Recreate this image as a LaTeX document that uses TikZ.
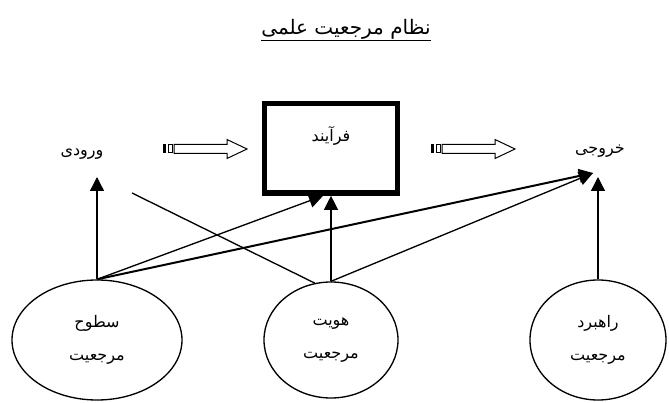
\documentclass[tikz,border=0pt]{standalone}
\usepackage{fontspec}
\newfontfamily\fa[Script=Arabic]{DejaVu Sans}
\TeXXeTstate=1
\usetikzlibrary{positioning,shapes.geometric,arrows.meta}

\begin{document}
\begin{tikzpicture}[x=0.75pt,y=-0.75pt,
	every node/.style={font=\fa\fontsize{12}{14}\selectfont},
	circ/.style={draw,ellipse,line width=1pt,align=center,font=\fa\fontsize{12}{24.5}\selectfont},
	arr/.style={-{Triangle[length=10.5pt,width=10.5pt]},line width=1pt}]
\useasboundingbox (0,0) rectangle (669,403);
% title
\node[inner xsep=0pt,anchor=east,font=\fa\fontsize{15}{17}\selectfont] (t) at (431,29) {\beginR نظام مرجعیت علمی\endR};
\draw[line width=0.75pt] ([yshift=-5pt]t.base west)--([yshift=-5pt]t.base east);
% process box
\node[draw,line width=4pt,minimum width=99.4pt,minimum height=67pt] (p) at (331,148.5) {};
\node (pl) at (331,136) {\beginR فرآیند\endR};
\node (i) at (82,154) {\beginR ورودی\endR};
\node (o) at (600,151) {\beginR خروجی\endR};
% striped arrows
\foreach \x in {163,431}{
	\fill (\x,144.5) rectangle ++(3,9);
	\draw[line width=0.75pt] (\x+5,145) rectangle ++(4,8);
	\draw[line width=0.75pt] (\x+11,144.5)--(\x+64,144.5)--(\x+64,139.5)--(\x+84,149)--(\x+64,158.5)--(\x+64,153.5)--(\x+11,153.5)--cycle;
}
% ellipses
\node[circ,minimum width=127.5pt,minimum height=90pt] (s) at (97,340) {\beginR سطوح\endR\\\beginR مرجعیت\endR};
\node[circ,minimum width=100.5pt,minimum height=87pt] (h) at (331,340) {\beginR هویت\endR\\\beginR مرجعیت\endR};
\node[circ,minimum width=102pt,minimum height=90pt] (r) at (598,340) {\beginR راهبرد\endR\\\beginR مرجعیت\endR};
% connectors
\coordinate (itip) at (97,177);
\coordinate (otip) at (598,177);
\coordinate (ctip) at (593,173);
\coordinate (cross) at (132,193);
\draw[arr] (s.north)--(itip);
\draw[arr] (s.north)--([xshift=-6pt]p.south);
\draw[arr,line width=1.5pt] (s.north)--(ctip);
\draw[arr] (h.north)--(p.south);
\draw[arr] (h.north)--(ctip);
\draw[line width=1pt] (cross)--(h.106);
\draw[arr] (r.north)--(otip);
\end{tikzpicture}
\end{document}
